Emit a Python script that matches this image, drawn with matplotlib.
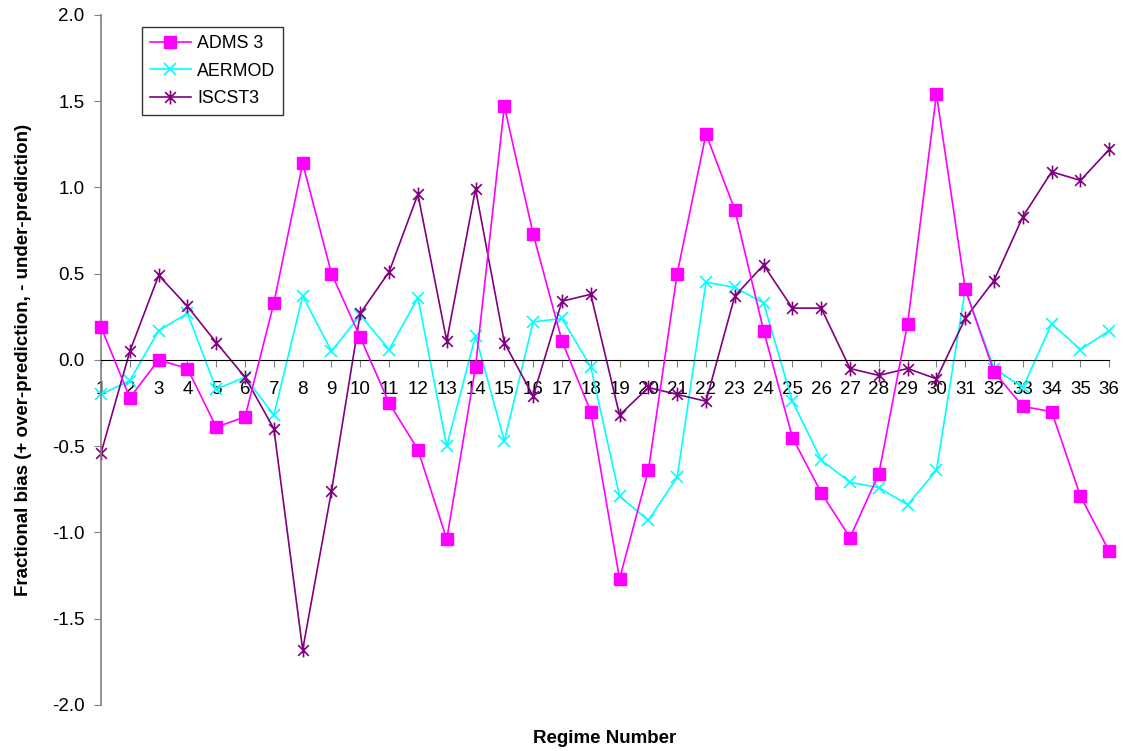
import matplotlib.pyplot as plt
import numpy as np
from matplotlib.path import Path

plt.rcParams['font.family'] = ['Liberation Sans', 'DejaVu Sans']

regimes = np.arange(1, 37)

adms3 = [0.19, -0.22, 0.00, -0.05, -0.39, -0.33, 0.33, 1.14, 0.50, 0.13,
         -0.25, -0.52, -1.04, -0.04, 1.47, 0.73, 0.11, -0.30, -1.27, -0.64,
         0.50, 1.31, 0.87, 0.17, -0.45, -0.77, -1.03, -0.66, 0.21, 1.54,
         0.41, -0.07, -0.27, -0.30, -0.79, -1.11]

aermod = [-0.20, -0.12, 0.17, 0.27, -0.17, -0.10, -0.32, 0.37, 0.05, 0.26,
          0.06, 0.36, -0.50, 0.14, -0.47, 0.22, 0.24, -0.04, -0.79, -0.93,
          -0.68, 0.45, 0.42, 0.33, -0.24, -0.58, -0.71, -0.74, -0.84, -0.64,
          0.41, -0.05, -0.16, 0.21, 0.06, 0.17]

iscst3 = [-0.54, 0.05, 0.49, 0.31, 0.10, -0.10, -0.40, -1.68, -0.76, 0.27,
          0.51, 0.96, 0.11, 0.99, 0.10, -0.21, 0.34, 0.38, -0.32, -0.16,
          -0.20, -0.24, 0.37, 0.55, 0.30, 0.30, -0.05, -0.09, -0.05, -0.11,
          0.24, 0.46, 0.83, 1.09, 1.04, 1.22]

yticks = [-2.0, -1.5, -1.0, -0.5, 0.0, 0.5, 1.0, 1.5, 2.0]

# excel style star: x with a vertical bar
star = Path([(-1, -1), (1, 1), (-1, 1), (1, -1), (0, -1.3), (0, 1.3)],
            [Path.MOVETO, Path.LINETO, Path.MOVETO, Path.LINETO, Path.MOVETO, Path.LINETO])

fs = 13.5

fig = plt.figure(figsize=(11.24, 7.51), dpi=100)
ax = fig.add_axes([0.0899, 0.0613, 0.897, 0.919])

ax.plot(regimes, adms3, color='#FF00FF', lw=1.2, marker='s', ms=8,
        mec='#FF00FF', mfc='#FF00FF', label='ADMS 3', zorder=3, clip_on=False)
ax.plot(regimes, aermod, color='#00FFFF', lw=1.2, marker='x', ms=9,
        mew=1.2, label='AERMOD', zorder=2, clip_on=False)
ax.plot(regimes, iscst3, color='#800080', lw=1.2, marker=star, ms=10,
        mew=1.2, label='ISCST3', zorder=2, clip_on=False)

ax.set_xlim(1, 36)
ax.set_ylim(-2, 2)
ax.set_xticks(regimes)
ax.set_xticklabels([str(r) for r in regimes])
ax.set_yticks(yticks)
ax.set_yticklabels(['%.1f' % v for v in yticks])

ax.spines['top'].set_visible(False)
ax.spines['right'].set_visible(False)
ax.spines['bottom'].set_position(('data', 0))
ax.spines['bottom'].set_color('black')
ax.spines['left'].set_color('#808080')
ax.spines['left'].set_linewidth(1.2)

ax.tick_params(axis='x', direction='out', length=5, color='#808080', pad=10, labelsize=fs)
ax.tick_params(axis='y', direction='out', length=5, color='#808080', pad=7, labelsize=fs)

ax.set_ylabel('Fractional bias (+ over-prediction, - under-prediction)',
              fontsize=fs, fontweight='bold', labelpad=14)
fig.text(0.538, 0.010, 'Regime Number', fontsize=fs, fontweight='bold', ha='center')

leg = ax.legend(loc='upper left', bbox_to_anchor=(0.1263, 0.964), bbox_transform=fig.transFigure,
                fontsize=12.8, frameon=True, fancybox=False, handlelength=2.3,
                borderpad=0.45, labelspacing=0.6, borderaxespad=0, handletextpad=0.35)
leg.get_frame().set_edgecolor('black')
leg.get_frame().set_linewidth(1.0)

fig.savefig('out.png', dpi=100)
